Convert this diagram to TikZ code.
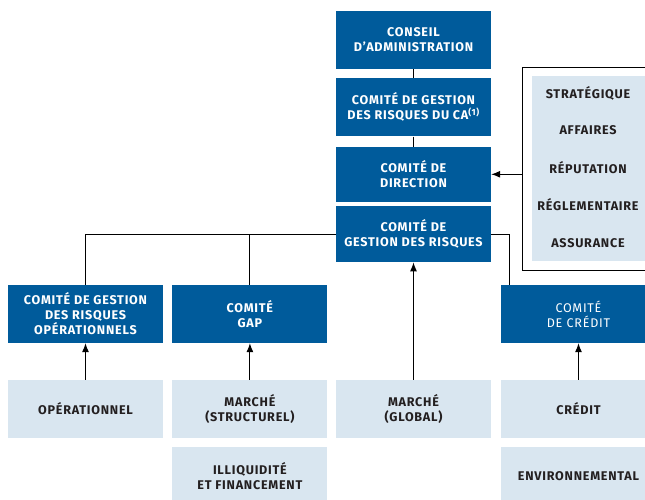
\documentclass[tikz,border=0pt]{standalone}
\usepackage{fontspec}
\setmainfont{Fira Sans}[LetterSpace=6]
\usetikzlibrary{arrows.meta}
\usetikzlibrary{positioning}
\definecolor{darkblue}{HTML}{005B9B}
\definecolor{paleblue}{HTML}{D9E6F0}
\definecolor{inkgray}{HTML}{231F20}

\begin{document}
\begin{tikzpicture}[x=1pt, y=1pt,
    dark/.style={fill=darkblue, text=white, font=\bfseries\fontsize{12.6}{15}\selectfont,
      align=center, minimum width=155pt, minimum height=58pt, inner sep=0pt},
    pale/.style={fill=paleblue, text=inkgray, font=\bfseries\fontsize{12.6}{15}\selectfont,
      align=center, minimum width=155pt, minimum height=58pt, inner sep=0pt},
    lbl/.style={text=inkgray, font=\bfseries\fontsize{12.6}{15}\selectfont},
    arr/.style={-{Latex[length=9pt,width=7pt]}, line width=1pt},
    link/.style={line width=1pt}]
  \useasboundingbox (0,0) rectangle (645,500);

  % central column
  \node[dark] (iCA) at (413.5,460) {CONSEIL\\D’ADMINISTRATION};
  \node[dark] (iCGRCA) [below=9pt of iCA] {COMITÉ DE GESTION\\DES RISQUES DU CA\textsuperscript{(1)}};
  \node[dark, minimum height=55pt] (iDir) [below=10pt of iCGRCA] {COMITÉ DE\\DIRECTION};
  \node[dark, minimum height=56pt] (iCGR) [below=4pt of iDir] {COMITÉ DE\\GESTION DES RISQUES};

  % risks reported to the direction
  \node[draw, line width=1.3pt, minimum width=140pt, minimum height=203pt, anchor=north west] (iFrame) at (522,433) {};
  \node[fill=paleblue, minimum width=130pt, minimum height=185pt, anchor=north west] (iRisk) at (532,424) {};
  \node[lbl] (iStrat) at (588,407) {STRATÉGIQUE};
  \node[lbl] (iAff) at (588,370) {AFFAIRES};
  \node[lbl] (iRep) at (588,332) {RÉPUTATION};
  \node[lbl] (iRegl) at (588,295) {RÉGLEMENTAIRE};
  \node[lbl] (iAss) at (588,257) {ASSURANCE};

  % committees
  \node[dark] (iOp) at (85.5,186) {COMITÉ DE GESTION\\DES RISQUES\\OPÉRATIONNELS};
  \node[dark] (iGAP) [right=9pt of iOp] {COMITÉ\\GAP};
  \node[dark, font=\fontsize{12.6}{15}\selectfont] (iComCred) at (578.5,186) {COMITÉ\\DE CRÉDIT};

  % risks
  \node[pale] (iOpr) at (85.5,91) {OPÉRATIONNEL};
  \node[pale] (iMS) [right=9pt of iOpr] {MARCHÉ\\(STRUCTUREL)};
  \node[pale] (iMG) at (413.5,91) {MARCHÉ\\(GLOBAL)};
  \node[pale] (iCred) at (578.5,91) {CRÉDIT};
  \node[pale] (iIll) [below=9pt of iMS] {ILLIQUIDITÉ\\ET FINANCEMENT};
  \node[pale] (iEnv) [below=9pt of iCred] {ENVIRONNEMENTAL};

  \draw[link] (iCA) -- (iCGRCA);
  \draw[link] (iCGRCA) -- (iDir);
  \draw[link] (iCGR.west) -| (iOp.north);
  \draw[link] (iGAP.north) -- (iGAP.north |- iCGR.west);
  \draw[link] (iCGR.east) -| ([xshift=9pt]iComCred.north west);

  \draw[arr] (iFrame.west |- iDir.east) -- (iDir.east);
  \draw[arr] (iOpr) -- (iOp);
  \draw[arr] (iMS) -- (iGAP);
  \draw[arr] (iMG) -- (iCGR);
  \draw[arr] (iCred) -- (iComCred);
\end{tikzpicture}
\end{document}
